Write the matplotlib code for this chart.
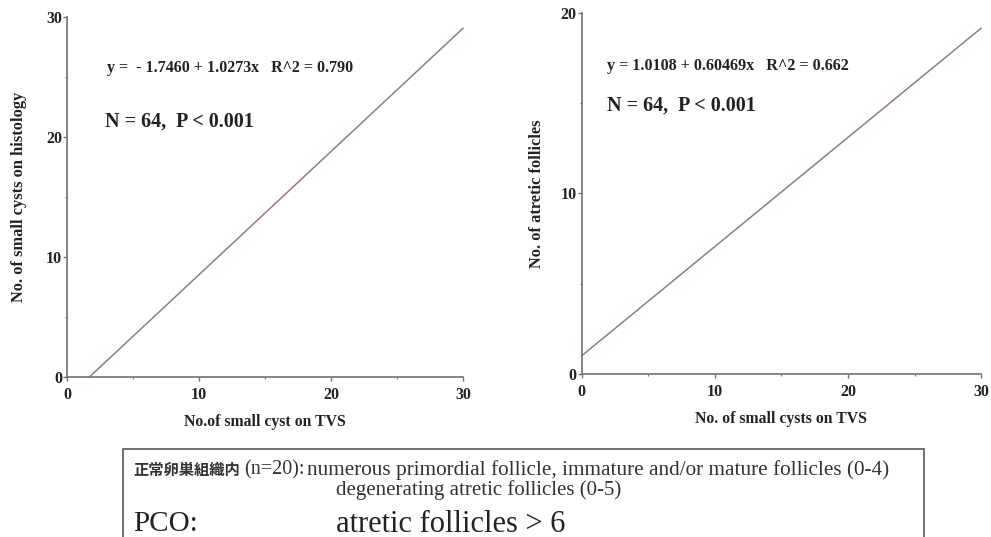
import numpy as np
import matplotlib
matplotlib.use("Agg")
import matplotlib.pyplot as plt
from matplotlib.patches import Rectangle

# Regression fits (intercept, slope, R^2)
fit_hist = dict(a=-1.7460, b=1.0273, r2="0.790")
fit_atr = dict(a=1.0108, b=0.60469, r2="0.662")
n_cases = 64
x_max = 30
left_ylim = 30
right_ylim = 20
left_xlabel = "No.of small cyst on TVS"
left_ylabel = "No. of small cysts on histology"
right_xlabel = "No. of small cysts on TVS"
right_ylabel = "No. of atretic follicles"

serif = ["Liberation Serif", "DejaVu Serif"]
line_col = "#957a7c"
spine_col = "#7c6c6c"
ink = "#222222"

fig = plt.figure(figsize=(9.91, 5.37), dpi=100)


def style_axes(ax, ymax):
    for s in ("top", "right"):
        ax.spines[s].set_visible(False)
    for s in ("left", "bottom"):
        ax.spines[s].set_color(spine_col)
        ax.spines[s].set_linewidth(1.2)
    ax.set_xlim(0, x_max)
    ax.set_ylim(0, ymax)
    ax.set_xticks(np.arange(0, x_max + 1, 10))
    ax.set_yticks(np.arange(0, ymax + 1, 10))
    ax.set_xticks(np.arange(5, x_max, 10), minor=True)
    ax.set_yticks(np.arange(5, ymax, 10), minor=True)
    ax.tick_params(which="major", length=3, width=1, color=spine_col)
    ax.tick_params(axis="x", which="major", pad=4)
    ax.tick_params(axis="y", which="major", pad=0.5)
    ax.tick_params(which="minor", length=1.5, width=0.8, color=spine_col)
    for lab in ax.get_xticklabels() + ax.get_yticklabels():
        lab.set_fontfamily(serif)
        lab.set_fontweight("bold")
        lab.set_fontsize(11.5)
        lab.set_color(ink)


def fit_line(ax, fit, ymax):
    xs = np.linspace(0, x_max, 400)
    ys = fit["a"] + fit["b"] * xs
    keep = (ys >= 0) & (ys <= ymax)
    ax.plot(xs[keep], ys[keep], color=line_col, lw=1.1, clip_on=False)


# Left panel: histology cysts vs TVS cysts
ax1 = fig.add_axes([0.0676, 0.298, 0.3996, 0.670])
style_axes(ax1, left_ylim)
fit_line(ax1, fit_hist, left_ylim)
ax1.text(0.10, 0.858,
         f"y =  - {abs(fit_hist['a']):.4f} + {fit_hist['b']:.4f}x   R^2 = {fit_hist['r2']}",
         transform=ax1.transAxes, fontfamily=serif, fontweight="bold",
         fontsize=11.5, color=ink, va="center")
ax1.text(0.095, 0.711, f"N = {n_cases},  P < 0.001",
         transform=ax1.transAxes, fontfamily=serif, fontweight="bold",
         fontsize=14.5, color=ink, va="center")
ax1.set_xlabel(left_xlabel, fontfamily=serif, fontweight="bold", fontsize=11.3,
               color=ink, labelpad=8)
ax1.set_ylabel(left_ylabel, fontfamily=serif, fontweight="bold", fontsize=11.8,
               color=ink, labelpad=14)

# Right panel: atretic follicles vs TVS cysts
ax2 = fig.add_axes([0.587, 0.3035, 0.403, 0.6725])
style_axes(ax2, right_ylim)
fit_line(ax2, fit_atr, right_ylim)
ax2.text(0.064, 0.853,
         f"y = {fit_atr['a']:.4f} + {fit_atr['b']:.5f}x   R^2 = {fit_atr['r2']}",
         transform=ax2.transAxes, fontfamily=serif, fontweight="bold",
         fontsize=11.6, color=ink, va="center")
ax2.text(0.064, 0.742, f"N = {n_cases},  P < 0.001",
         transform=ax2.transAxes, fontfamily=serif, fontweight="bold",
         fontsize=14.5, color=ink, va="center")
ax2.set_xlabel(right_xlabel, fontfamily=serif, fontweight="bold", fontsize=11.3,
               color=ink, labelpad=8)
ax2.set_ylabel(right_ylabel, fontfamily=serif, fontweight="bold", fontsize=11.8,
               color=ink, labelpad=11)

# Histology note box below the panels
W, H = 991, 537
fig.patches.append(Rectangle((123 / W, -0.05), (924 - 123) / W, (537 - 449) / H + 0.05,
                             transform=fig.transFigure, fill=False,
                             edgecolor="#6a6060", lw=1.3))


def fy(py):
    return 1 - py / H


text_col = "#333333"
fig.text(133 / W, fy(470), "正常卵巣組織内", fontfamily=["Noto Sans CJK JP", "DejaVu Sans"],
         fontweight="bold", fontsize=11, color=text_col, va="center")
fig.text(244 / W, fy(470), "(n=20):", fontfamily=serif, fontsize=14.5,
         color=text_col, va="center")
fig.text(307 / W, fy(470),
         "numerous primordial follicle, immature and/or mature follicles (0-4)",
         fontfamily=serif, fontsize=15.3, color=text_col, va="center")
fig.text(336 / W, fy(490), "degenerating atretic follicles (0-5)",
         fontfamily=serif, fontsize=15, color=text_col, va="center")
fig.text(133 / W, fy(524), "PCO:", fontfamily=serif, fontsize=21,
         color=ink, va="center")
fig.text(336 / W, fy(524), "atretic follicles > 6", fontfamily=serif, fontsize=22,
         color=ink, va="center")

fig.savefig("out.png", dpi=100)
